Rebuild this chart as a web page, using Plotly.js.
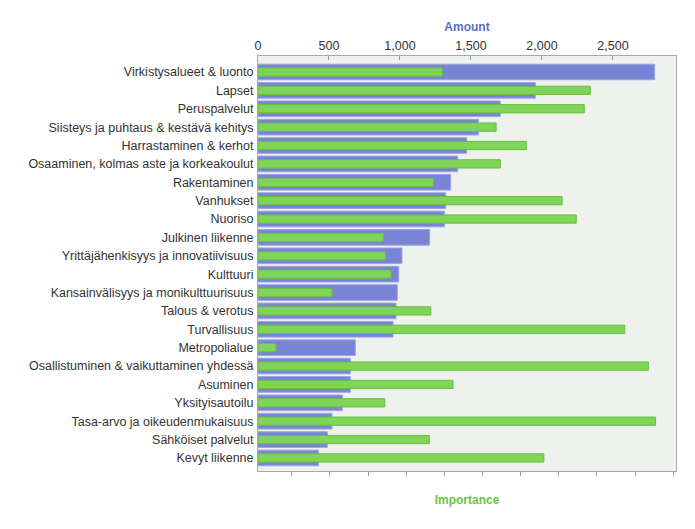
<!DOCTYPE html>
<html>
<head>
<meta charset="utf-8">
<script src="https://cdn.plot.ly/plotly-3.0.1.min.js"></script>
<style>html,body{margin:0;padding:0;background:#fff;}#chart{width:695px;height:529px;}</style>
</head>
<body>
<div id="chart"></div>
<script>
const categories = [
  "Virkistysalueet & luonto",
  "Lapset",
  "Peruspalvelut",
  "Siisteys ja puhtaus & kestävä kehitys",
  "Harrastaminen & kerhot",
  "Osaaminen, kolmas aste ja korkeakoulut",
  "Rakentaminen",
  "Vanhukset",
  "Nuoriso",
  "Julkinen liikenne",
  "Yrittäjähenkisyys ja innovatiivisuus",
  "Kulttuuri",
  "Kansainvälisyys ja monikulttuurisuus",
  "Talous & verotus",
  "Turvallisuus",
  "Metropolialue",
  "Osallistuminen & vaikuttaminen yhdessä",
  "Asuminen",
  "Yksityisautoilu",
  "Tasa-arvo ja oikeudenmukaisuus",
  "Sähköiset palvelut",
  "Kevyt liikenne"
];
const amount = [2794, 1953, 1706, 1552, 1470, 1406, 1357, 1322, 1312, 1209, 1014, 991, 981, 972, 951, 685, 650, 650, 594, 521, 488, 425];
const importance = [4.83, 8.71, 8.55, 6.24, 7.03, 6.35, 4.60, 7.97, 8.34, 3.29, 3.34, 3.49, 1.94, 4.53, 9.61, 0.47, 10.23, 5.11, 3.32, 10.42, 4.49, 7.49];
const amountTitle = "Amount";
const importanceTitle = "Importance";

const data = [
  {
    type: "bar", orientation: "h",
    x: amount, y: categories,
    xaxis: "x", yaxis: "y",
    width: 0.85,
    marker: {color: "#7a84d4", line: {color: "#9aa3e6", width: 1}},
    name: amountTitle, hoverinfo: "x+y"
  },
  {
    type: "bar", orientation: "h",
    x: importance, y: categories,
    xaxis: "x2", yaxis: "y",
    width: 0.45,
    marker: {color: "#80d458", line: {color: "#66bf40", width: 1}},
    name: importanceTitle, hoverinfo: "x+y"
  }
];

const layout = {
  width: 695, height: 529,
  margin: {l: 258, r: 19, t: 56, b: 58, pad: 0},
  paper_bgcolor: "#ffffff",
  plot_bgcolor: "#eff1ec",
  showlegend: false,
  barmode: "overlay",
  font: {family: "Liberation Sans, Arial, sans-serif", size: 12, color: "#333333"},
  xaxis: {
    side: "top",
    range: [0, 2944],
    dtick: 500,
    tickformat: ",d",
    ticks: "inside", ticklen: 4, tickcolor: "#999999",
    showgrid: false, zeroline: false,
    showline: true, linecolor: "#a8a8a8", linewidth: 1, mirror: false,
    tickfont: {size: 12.5, color: "#333333"},
    title: {text: amountTitle, font: {size: 12, color: "#5f6cc4", family: "Liberation Sans, Arial, sans-serif", weight: "bold"}, standoff: 4}
  },
  xaxis2: {
    overlaying: "x",
    side: "bottom",
    anchor: "y",
    range: [0, 10.954],
    tick0: 0.883, dtick: 1,
    ticks: "outside", ticklen: 4, tickcolor: "#999999",
    showticklabels: false,
    showgrid: false, zeroline: false,
    showline: true, linecolor: "#a8a8a8", linewidth: 1,
    title: {text: importanceTitle, font: {size: 12, color: "#6cc444", family: "Liberation Sans, Arial, sans-serif", weight: "bold"}, standoff: 20}
  },
  yaxis: {
    type: "category",
    range: [21.71, -0.87],
    ticks: "", showgrid: false, zeroline: false,
    showline: true, linecolor: "#a8a8a8", linewidth: 1, mirror: true,
    ticklabelstandoff: 1,
    tickfont: {size: 12.5, color: "#333333"}
  }
};

Plotly.newPlot("chart", data, layout, {displayModeBar: false, staticPlot: true});
</script>
</body>
</html>
